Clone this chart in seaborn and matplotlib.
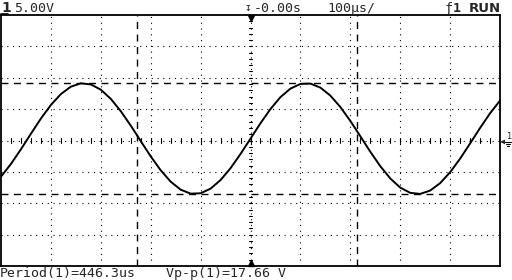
import matplotlib
matplotlib.use("Agg")
import matplotlib.pyplot as plt
import seaborn as sns
import numpy as np
import pandas as pd

# time in microseconds (100 us/div), voltage in volts (5 V/div)
time_us = list(range(-500, 501, 20))
volts = [-5.76, -3.73, -1.39, 1.08, 3.50, 5.66, 7.40, 8.58, 9.11, 8.94,
         8.10, 6.64, 4.68, 2.38, -0.09, -2.53, -4.74, -6.56, -7.83, -8.47,
         -8.41, -7.67, -6.30, -4.41, -2.15, 0.30, 2.75, 5.01, 6.91, 8.27,
         9.01, 9.07, 8.43, 7.16, 5.34, 3.13, 0.69, -1.78, -4.08, -6.04,
         -7.50, -8.34, -8.51, -7.98, -6.80, -5.06, -2.90, -0.48, 1.99, 4.33,
         6.36]
cursor_volts = [9.1, -8.5]
cursor_times = [-228, 214]
header_texts = ["5.00V", "-0.00s", "100\u00b5s/", "RUN"]
footer_texts = ["Period(1)=446.3us", "Vp-p(1)=17.66 V"]

df = pd.DataFrame({"t": time_us, "v": volts})

sns.set_style("white")
plt.rcParams["font.family"] = ["DejaVu Sans Mono", "DejaVu Sans"]

fig = plt.figure(figsize=(5.12, 2.80), dpi=100)
fig.patch.set_facecolor("white")
W, H = 512, 280
ax = fig.add_axes([1 / W, (280 - 266) / H, 499 / W, 251 / H])
ax.set_xlim(-500, 500)
ax.set_ylim(-20, 20)
ax.set_xticks([])
ax.set_yticks([])
for s in ax.spines.values():
    s.set_color("black")
    s.set_linewidth(1.3)

# graticule
dot = (0, (1, 4.2))
for x in range(-400, 401, 100):
    if x != 0:
        ax.axvline(x, color="black", lw=0.8, ls=dot)
for y in range(-15, 16, 5):
    if y != 0:
        ax.axhline(y, color="black", lw=0.8, ls=dot)
# center axes with minor ticks
ax.axvline(0, color="black", lw=0.8, ls=dot)
ax.axhline(0, color="black", lw=0.8, ls=dot)
for x in np.arange(-480, 481, 20):
    ax.plot([x, x], [-0.4, 0.4], color="black", lw=0.8)
for y in np.arange(-19, 19.5, 1.0):
    ax.plot([-3, 3], [y, y], color="black", lw=0.8)

# cursors
for v in cursor_volts:
    ax.axhline(v, color="black", lw=1.0, ls=(0, (5, 4)))
for t in cursor_times:
    ax.axvline(t, color="black", lw=1.0, ls=(0, (5, 4)))

# trace
sns.lineplot(data=df, x="t", y="v", ax=ax, color="black", lw=1.4,
             legend=False, estimator=None, sort=False)
ax.set_xlabel("")
ax.set_ylabel("")

# markers at trigger position
ax.plot([0], [19.6], marker="v", color="black", ms=5, clip_on=False)
ax.plot([0], [-19.6], marker="^", color="black", ms=5, clip_on=False)

# header
fs = 9.5
fig.text(1 / W, 1 - 12 / H, "1", fontsize=10, fontweight="bold", va="baseline",
         family="DejaVu Sans")
fig.add_artist(plt.Line2D([1 / W, 8 / W], [1 - 13.5 / H, 1 - 13.5 / H],
                          color="black", lw=1.2))
fig.text(14 / W, 1 - 12 / H, header_texts[0], fontsize=fs, va="baseline")
fig.text(244 / W, 1 - 11 / H, "\u21a7", fontsize=8, va="baseline")
fig.text(254 / W, 1 - 12 / H, header_texts[1], fontsize=fs, va="baseline")
fig.text(327 / W, 1 - 12 / H, header_texts[2], fontsize=fs, va="baseline")
fig.text(445 / W, 1 - 12 / H, "\u0192", fontsize=fs, va="baseline")
fig.text(453 / W, 1 - 12 / H, "1", fontsize=fs, fontweight="bold", va="baseline")
fig.text(469 / W, 1 - 12 / H, header_texts[3], fontsize=fs, fontweight="bold",
         va="baseline", family="DejaVu Sans")

# right ground marker: arrow, channel number, ground symbol drawn as lines
fig.text(500 / W, 1 - 144 / H, "\u25c0", fontsize=6, va="baseline")
fig.text(507 / W, 1 - 139 / H, "1", fontsize=6, va="baseline")
for i, half in enumerate([3, 2, 1]):
    yy = 1 - (142 + 2 * i) / H
    fig.add_artist(plt.Line2D([(508 - half) / W, (508 + half) / W], [yy, yy],
                              color="black", lw=0.8))

# footer
fig.text(0 / W, 1 - 277 / H, footer_texts[0], fontsize=fs, va="baseline")
fig.text(166 / W, 1 - 277 / H, footer_texts[1], fontsize=fs, va="baseline")

fig.savefig("out.png", dpi=100, facecolor="white")
